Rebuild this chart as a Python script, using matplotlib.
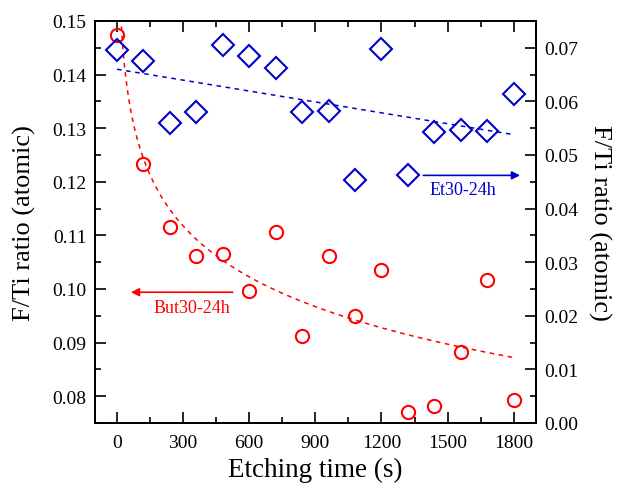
import numpy as np
import matplotlib
matplotlib.use("Agg")
import matplotlib.pyplot as plt
from matplotlib.ticker import MultipleLocator, FormatStrFormatter

plt.rcParams['font.family'] = ['Liberation Serif', 'DejaVu Serif']

# etching time (s)
t = [0, 120, 240, 360, 480, 600, 720, 840, 960, 1080, 1200, 1320, 1440, 1560, 1680, 1800]
# But30-24h, left axis
f_but = [0.1474, 0.1233, 0.1116, 0.1062, 0.1065, 0.0997, 0.1107, 0.0913,
         0.1062, 0.0950, 0.1036, 0.0771, 0.0781, 0.0882, 0.1016, 0.0792]
# Et30-24h, right axis
f_et = [0.0695, 0.0676, 0.0560, 0.0580, 0.0706, 0.0684, 0.0662, 0.0580,
        0.0582, 0.0454, 0.0697, 0.0463, 0.0542, 0.0547, 0.0545, 0.0613]

# fit parameters: y = a - b*ln(t) for But, y = c + d*t for Et
but_a, but_b = 0.1899, 0.0137
et_c, et_d = 0.0660, -0.0122 / 1800

red = '#ff0000'
blue = '#0000cc'

fig = plt.figure(figsize=(6.19, 4.85), dpi=100)
ax = fig.add_axes([95 / 619, 61 / 485, 440.7 / 619, 402 / 485])
ax2 = ax.twinx()

tf = np.linspace(10, 1800, 400)
ax.plot(tf, but_a - but_b * np.log(tf), ls=(0, (3, 3)), color=red, lw=1.1)
ax.plot(t, f_but, 'o', ms=9.5, mfc='none', mec=red, mew=1.5)

te = np.array([0, 1800])
ax2.plot(te, et_c + et_d * te, ls=(0, (3, 3)), color=blue, lw=1.1)
ax2.plot(t, f_et, 'D', ms=11.5, mfc='none', mec=blue, mew=1.5)

ax.set_xlim(-100, 1900)
ax.set_ylim(0.075, 0.15)
ax2.set_ylim(0, 0.075)

ax.xaxis.set_major_locator(MultipleLocator(300))
ax.xaxis.set_minor_locator(MultipleLocator(150))
ax.yaxis.set_major_locator(MultipleLocator(0.01))
ax.yaxis.set_minor_locator(MultipleLocator(0.005))
ax2.yaxis.set_major_locator(MultipleLocator(0.01))
ax2.yaxis.set_minor_locator(MultipleLocator(0.005))
ax.yaxis.set_major_formatter(FormatStrFormatter('%.2f'))
ax2.yaxis.set_major_formatter(FormatStrFormatter('%.2f'))

for a in (ax, ax2):
    a.tick_params(which='major', direction='in', length=8, width=1.2, labelsize=14)
    a.tick_params(which='minor', direction='in', length=4, width=1.2)
    for s in a.spines.values():
        s.set_linewidth(1.3)
ax.tick_params(which='both', top=True, right=False)
ax.tick_params(axis='x', pad=8)
ax.tick_params(axis='y', pad=6)
ax2.tick_params(axis='y', pad=6)

ax.set_xlabel('Etching time (s)', fontsize=19.5, labelpad=4)
ax.set_ylabel('F/Ti ratio (atomic)', fontsize=19, labelpad=12)
ax2.set_ylabel('F/Ti ratio (atomic)', fontsize=19, rotation=270, labelpad=24)

# series arrows pointing to their axes
ax.annotate('', xy=(63, 0.0994), xytext=(525, 0.0994),
            arrowprops=dict(arrowstyle='-|>', color=red, lw=1.2, mutation_scale=12,
                            shrinkA=0, shrinkB=0))
ax.text(339, 0.0982, 'But30-24h', color=red, fontsize=13, ha='center', va='top')
ax2.annotate('', xy=(1829, 0.0462), xytext=(1390, 0.0462),
             arrowprops=dict(arrowstyle='-|>', color=blue, lw=1.2, mutation_scale=12,
                             shrinkA=0, shrinkB=0))
ax2.text(1570, 0.0452, 'Et30-24h', color=blue, fontsize=13, ha='center', va='top')

fig.savefig('out.png', dpi=100)
